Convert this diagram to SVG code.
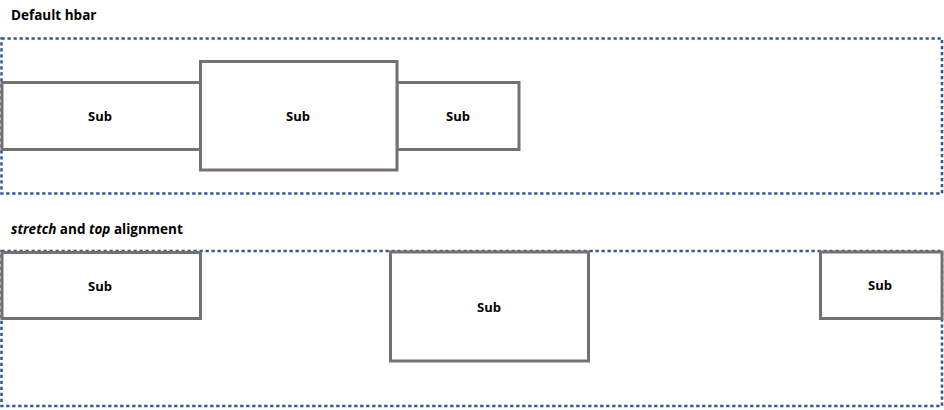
<svg xmlns="http://www.w3.org/2000/svg" width="944" height="410" viewBox="0 0 944 410">
<style>
.cont{fill:none;stroke:#2f5597;stroke-width:2.5;stroke-dasharray:3.3 2.7}
.sub{fill:#ffffff;stroke:#767171;stroke-width:3}
.lbl{font-family:"Open Sans","Liberation Sans",sans-serif;font-weight:bold;font-size:13px;fill:#000;text-anchor:middle;dominant-baseline:central}
.title{font-family:"Open Sans","Liberation Sans",sans-serif;font-weight:bold;font-size:13.5px;fill:#000}
</style>
<rect width="944" height="410" fill="#ffffff"/>
<text class="title" x="11" y="19.5">Default hbar</text>
<text class="title" x="11" y="234"><tspan font-style="italic">stretch</tspan> and <tspan font-style="italic">top</tspan> alignment</text>
<g id="container1"><rect class="cont" x="1.5" y="38.5" width="940.5" height="155"/></g>
<g id="container2"><rect class="cont" x="1.5" y="251" width="940.5" height="155"/></g>
<g id="connectors"></g>
<g id="subA"><rect class="sub" x="2" y="82.5" width="198.5" height="67"/><text class="lbl" x="100" y="116">Sub</text></g>
<g id="subC"><rect class="sub" x="397" y="82.5" width="122" height="67"/><text class="lbl" x="458" y="116">Sub</text></g>
<g id="subB"><rect class="sub" x="200.5" y="61.5" width="196.5" height="108.5"/><text class="lbl" x="298" y="116">Sub</text></g>
<g id="subD"><rect class="sub" x="2" y="252.5" width="198.5" height="66"/><text class="lbl" x="100" y="286">Sub</text></g>
<g id="subE"><rect class="sub" x="390.5" y="252" width="198" height="109"/><text class="lbl" x="489" y="307">Sub</text></g>
<g id="subF"><rect class="sub" x="820.5" y="252" width="121.5" height="66.5"/><text class="lbl" x="880" y="285">Sub</text></g>
</svg>
